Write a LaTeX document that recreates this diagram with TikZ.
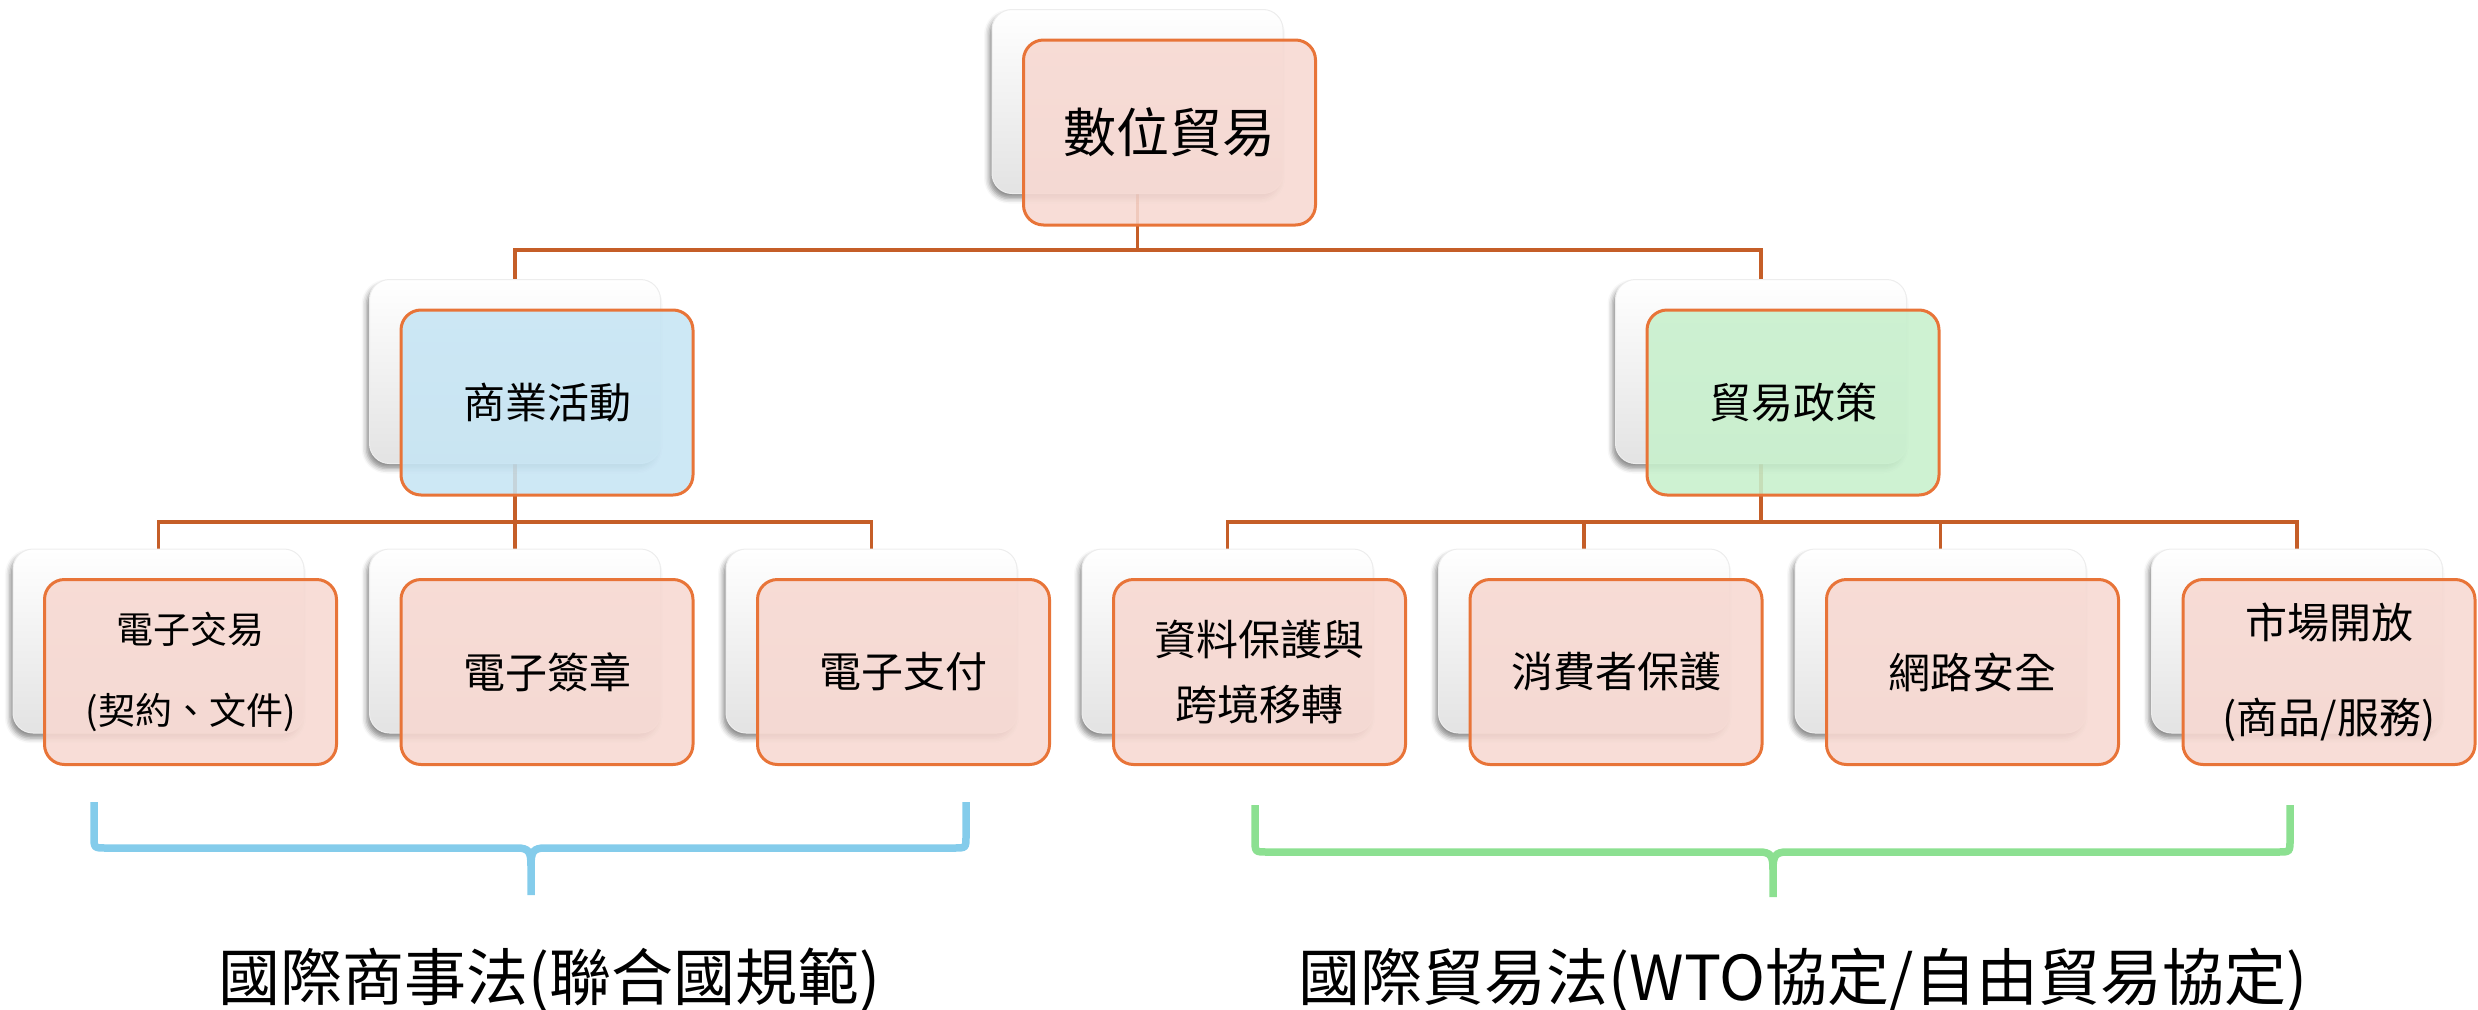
\documentclass[tikz,border=0pt]{standalone}
\usepackage{fontspec}
\setmainfont{Noto Sans CJK TC}
\usetikzlibrary{shadows.blur,backgrounds}
\definecolor{connc}{RGB}{197,94,40}
\definecolor{edgec}{RGB}{232,116,56}
\definecolor{pinkf}{RGB}{247,216,209}
\definecolor{bluef}{RGB}{198,229,244}
\definecolor{greenf}{RGB}{199,240,204}
\definecolor{bbrace}{RGB}{132,204,235}
\definecolor{gbrace}{RGB}{140,224,145}
\begin{document}
\begin{tikzpicture}[x=1pt,y=-1pt,
  backbox/.style={rectangle, rounded corners=20pt, minimum width=291pt, minimum height=184pt,
    inner sep=0pt, draw=black!7, line width=1pt, shading=axis, top color=white, middle color=white,
    bottom color=black!11,
    blur shadow={shadow xshift=-3pt, shadow yshift=-5pt, shadow blur radius=5pt, shadow opacity=45}},
  frontbox/.style={rectangle, rounded corners=20pt, minimum width=292pt, minimum height=185pt,
    inner sep=0pt, draw=edgec, line width=3pt, fill=pinkf, fill opacity=0.88, text opacity=1,
    align=center},
  conn/.style={draw=connc, line width=3.5pt},
  brace/.style={line width=7.5pt},
  topfont/.style={font=\fontsize{53}{60}\selectfont},
  midfont/.style={font=\fontsize{42}{50}\selectfont},
  leaffont/.style={font=\fontsize{42}{50}\selectfont},
  lawfont/.style={font=\fontsize{62}{70}\selectfont}
]
\useasboundingbox (0,0) rectangle (2478,1009);

% level 0
\node[backbox] (top) at (1137.5,101.5) {};
\node[frontbox, topfont] (topf) at (1169.5,132.5) {數位貿易};

% level 1
\node[backbox] (m1) at (515,371.5) {};
\node[frontbox, midfont, fill=bluef] (m1f) at (547,402.5) {商業活動};
\node[backbox] (m2) at (1761,371.5) {};
\node[frontbox, midfont, fill=greenf] (m2f) at (1793,402.5) {貿易政策};

% leaves
\node[backbox] (l1) at (158.5,641) {};
\node[frontbox, font=\fontsize{37}{81}\selectfont] (l1f) at (190.5,672) {電子交易\\(契約、文件)};
\node[backbox] (l2) at (515,641) {};
\node[frontbox, leaffont] (l2f) at (547,672) {電子簽章};
\node[backbox] (l3) at (871.5,641) {};
\node[frontbox, leaffont] (l3f) at (903.5,672) {電子支付};
\node[backbox] (l4) at (1227.5,641) {};
\node[frontbox, font=\fontsize{42}{65}\selectfont] (l4f) at (1259.5,672) {資料保護與\\跨境移轉};
\node[backbox] (l5) at (1584,641) {};
\node[frontbox, leaffont] (l5f) at (1616,672) {消費者保護};
\node[backbox] (l6) at (1940.5,641) {};
\node[frontbox, leaffont] (l6f) at (1972.5,672) {網路安全};
\node[backbox] (l7) at (2297,641) {};
\node[frontbox, font=\fontsize{42}{95}\selectfont] (l7f) at (2329,672) {市場開放\\(商品/服務)};

% connectors
\coordinate (bus0) at (1137.5,250);
\coordinate (bus1) at (515,522);
\coordinate (bus2) at (1761,522);
\begin{scope}[on background layer]
  \draw[conn] (top.south) -- (bus0);
  \draw[conn] (m1.north) |- (bus0) -| (m2.north);
  \draw[conn] (m1.south) -- (bus1);
  \draw[conn] (l1.north) |- (bus1) -| (l3.north);
  \draw[conn] (bus1) -- (l2.north);
  \draw[conn] (m2.south) -- (bus2);
  \draw[conn] (l4.north) |- (bus2) -| (l7.north);
  \draw[conn] (l5.north) -- (l5.north |- bus2);
  \draw[conn] (l6.north) -- (l6.north |- bus2);
\end{scope}

% braces
\draw[brace, draw=bbrace] (94,802) -- (94,836) .. controls (94,848) .. (106,848) -- (517,848)
  .. controls (529,848) and (531,852) .. (531,866) -- (531,895);
\draw[brace, draw=bbrace] (966,802) -- (966,836) .. controls (966,848) .. (954,848) -- (545,848)
  .. controls (533,848) and (531,852) .. (531,866);
\draw[brace, draw=gbrace] (1255,805) -- (1255,839) .. controls (1255,852) .. (1267,852) -- (1759,852)
  .. controls (1771,852) and (1773,856) .. (1773,870) -- (1773,897);
\draw[brace, draw=gbrace] (2290,805) -- (2290,839) .. controls (2290,852) .. (2278,852) -- (1787,852)
  .. controls (1775,852) and (1773,856) .. (1773,870);

% law labels
\node[lawfont, anchor=base, inner sep=0pt] (law1) at (549,1000) {國際商事法(聯合國規範)};
\node[lawfont, anchor=base, inner sep=0pt] (law2) at (1803,1000) {國際貿易法(WTO協定/自由貿易協定)};
\end{tikzpicture}
\end{document}
